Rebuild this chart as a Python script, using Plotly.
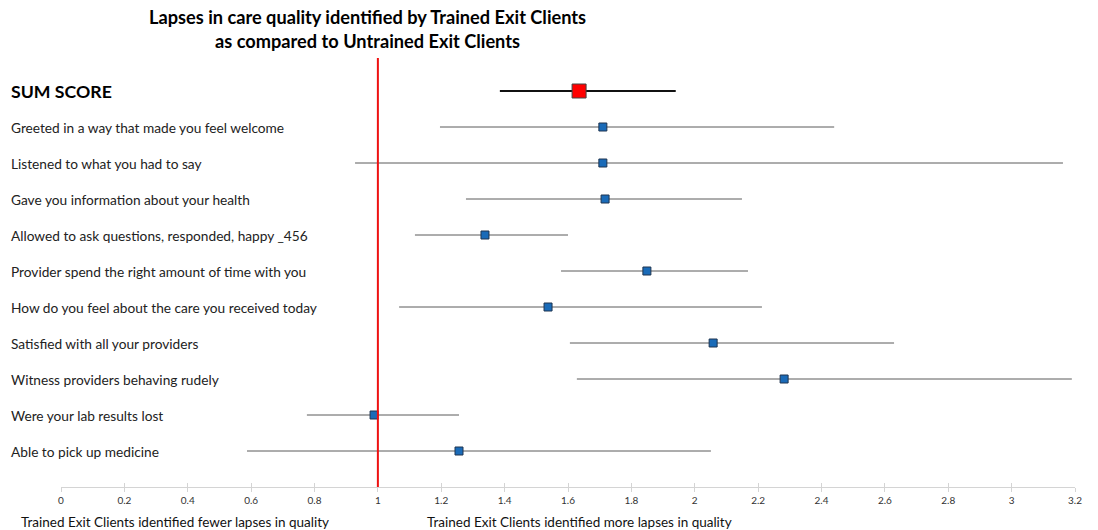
import plotly.graph_objects as go

labels = [
    "SUM SCORE",
    "Greeted in a way that made you feel welcome",
    "Listened to what you had to say",
    "Gave you information about your health",
    "Allowed to ask questions, responded, happy _456",
    "Provider spend the right amount of time with you",
    "How do you feel about the care you received today",
    "Satisfied with all your providers",
    "Witness providers behaving rudely",
    "Were your lab results lost",
    "Able to pick up medicine",
]
estimate = [1.635, 1.71, 1.71, 1.717, 1.338, 1.849, 1.537, 2.058, 2.282, 0.988, 1.256]
lower = [1.385, 1.196, 0.928, 1.278, 1.117, 1.578, 1.067, 1.606, 1.628, 0.776, 0.587]
upper = [1.94, 2.44, 3.162, 2.149, 1.60, 2.168, 2.212, 2.629, 3.19, 1.256, 2.051]
tick_vals = [round(0.2 * i, 1) for i in range(17)]
tick_text = ["0", "0.2", "0.4", "0.6", "0.8", "1", "1.2", "1.4", "1.6", "1.8",
             "2", "2.2", "2.4", "2.6", "2.8", "3", "3.2"]

FONT = "Lato"
W, H = 1098, 530
ML, MR, MT, MB = 61, 23, 55, 43
PW, PH = W - ML - MR, H - MT - MB
rows = list(range(len(labels)))

fig = go.Figure()

fig.add_trace(go.Scatter(
    x=estimate[1:], y=rows[1:], mode="markers",
    marker=dict(symbol="square", size=8, color="#1a6bb8",
                line=dict(color="#1f3550", width=1)),
    error_x=dict(type="data", symmetric=False,
                 array=[u - e for u, e in zip(upper[1:], estimate[1:])],
                 arrayminus=[e - l for e, l in zip(estimate[1:], lower[1:])],
                 color="#5a5a5a", thickness=1, width=0),
    showlegend=False, hoverinfo="skip",
))
fig.add_trace(go.Scatter(
    x=estimate[:1], y=rows[:1], mode="markers",
    marker=dict(symbol="square", size=14, color="#ff0000",
                line=dict(color="#444444", width=1)),
    error_x=dict(type="data", symmetric=False,
                 array=[upper[0] - estimate[0]],
                 arrayminus=[estimate[0] - lower[0]],
                 color="#111111", thickness=2.2, width=0),
    showlegend=False, hoverinfo="skip",
))
# invisible trace to activate the overlay axis that draws the inner half of the ticks
fig.add_trace(go.Scatter(x=[None], y=[None], xaxis="x2", showlegend=False,
                         hoverinfo="skip"))

fig.add_shape(type="line", x0=1, x1=1, y0=11, y1=-0.92, xref="x", yref="y",
              line=dict(color="#ee1111", width=2), layer="above")

lx = (9 - ML) / PW
for i, lab in enumerate(labels):
    if i == 0:
        fig.add_annotation(x=lx, xref="paper", xanchor="left", y=i, yref="y",
                           text="<b>" + lab + "</b>", showarrow=False,
                           font=dict(family=FONT, size=17.7, color="#000000"))
    else:
        fig.add_annotation(x=lx, xref="paper", xanchor="left", y=i, yref="y",
                           text=lab, showarrow=False,
                           font=dict(family=FONT, size=13.7, color="#222222"))

fig.add_annotation(x=(367 - ML) / PW, xref="paper", xanchor="center",
                   y=1 + (MT - 29) / PH, yref="paper", yanchor="middle",
                   text="<b>Lapses in care quality identified by Trained Exit Clients<br>as compared to Untrained Exit Clients</b>",
                   showarrow=False,
                   font=dict(family=FONT, size=18.2, color="#000000"))

fig.add_annotation(x=(19 - ML) / PW, xref="paper", xanchor="left", y=-(522 - MT - PH) / PH,
                   yref="paper", yanchor="middle",
                   text="Trained Exit Clients identified fewer lapses in quality",
                   showarrow=False, font=dict(family=FONT, size=13.5, color="#111111"))
fig.add_annotation(x=(425 - ML) / PW, xref="paper", xanchor="left", y=-(522 - MT - PH) / PH,
                   yref="paper", yanchor="middle",
                   text="Trained Exit Clients identified more lapses in quality",
                   showarrow=False, font=dict(family=FONT, size=13.5, color="#111111"))

fig.update_layout(
    width=W, height=H,
    margin=dict(l=ML, r=MR, t=MT, b=MB),
    plot_bgcolor="white", paper_bgcolor="white",
    xaxis=dict(range=[0, 3.2], tickvals=tick_vals, ticktext=tick_text,
               showgrid=False, zeroline=False, showline=True, linecolor="#d4d4d4",
               linewidth=1, ticks="outside", ticklen=4, tickcolor="#d4d4d4",
               tickfont=dict(family=FONT, size=10, color="#333333")),
    xaxis2=dict(range=[0, 3.2], tickvals=tick_vals, overlaying="x", anchor="y",
                side="bottom", showticklabels=False, showgrid=False, zeroline=False,
                showline=False, ticks="inside", ticklen=4, tickcolor="#d4d4d4"),
    yaxis=dict(range=[11, -1], visible=False, showgrid=False, zeroline=False),
)

fig.write_html("out.html", config={"displayModeBar": False},
               post_script="document.body.style.margin='0';document.body.style.padding='0';")
